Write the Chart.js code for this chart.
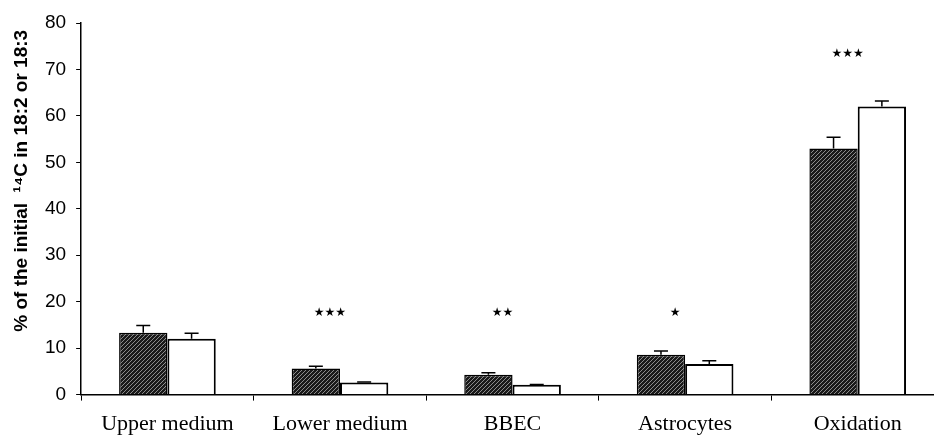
<!DOCTYPE html>
<html>
<head>
<meta charset="utf-8">
<script src="https://cdn.jsdelivr.net/npm/chart.js@4"></script>
<style>
  html, body { margin: 0; padding: 0; background: #fff; overflow: hidden; }
  #wrap { width: 944px; height: 447px; }
</style>
</head>
<body>
<div id="wrap"><canvas id="chart" width="944" height="447"></canvas></div>
<script>
const categories = ['Upper medium', 'Lower medium', 'BBEC', 'Astrocytes', 'Oxidation'];
const hatchedValues = [13.3, 5.6, 4.3, 8.6, 53.0];
const hatchedErrors = [1.6, 0.5, 0.4, 0.8, 2.4];
const whiteValues = [12.0, 2.6, 2.1, 6.6, 62.0];
const whiteErrors = [1.2, 0.1, 0.1, 0.7, 1.2];
const stars = ['', '***', '**', '*', '***'];
const starLevels = [null, 17.6, 17.5, 17.5, 73.4];
const yTicks = [0, 10, 20, 30, 40, 50, 60, 70, 80];
const yTitle = '% of the initial  \u00b9\u2074C in 18:2 or 18:3';

// diagonal hatch for the dark bars
function makeHatch() {
    const c = document.createElement('canvas');
    c.width = 4; c.height = 4;
    const g = c.getContext('2d');
    g.fillStyle = '#1a1a1a';
    g.fillRect(0, 0, 4, 4);
    g.strokeStyle = '#8c8c8c';
    g.lineWidth = 1;
    g.beginPath();
    g.moveTo(-1, 5); g.lineTo(5, -1);
    g.stroke();
    return g.createPattern(c, 'repeat');
}

const errorBars = {
    id: 'errorBars',
    afterDatasetsDraw(chart) {
        const ctx = chart.ctx;
        const y = chart.scales.y;
        const errs = [hatchedErrors, whiteErrors];
        ctx.save();
        ctx.strokeStyle = '#000';
        ctx.lineWidth = 1.5;
        chart.data.datasets.forEach((ds, di) => {
            chart.getDatasetMeta(di).data.forEach((bar, i) => {
                const top = y.getPixelForValue(ds.data[i] + errs[di][i]);
                ctx.beginPath();
                ctx.moveTo(bar.x, bar.y);
                ctx.lineTo(bar.x, top);
                ctx.moveTo(bar.x - 7, top);
                ctx.lineTo(bar.x + 7, top);
                ctx.stroke();
            });
        });
        ctx.restore();
    }
};

const starMarks = {
    id: 'starMarks',
    afterDatasetsDraw(chart) {
        const ctx = chart.ctx;
        const x = chart.scales.x, y = chart.scales.y;
        ctx.save();
        ctx.fillStyle = '#000';
        ctx.font = '12px "DejaVu Sans"';
        ctx.textAlign = 'center';
        ctx.textBaseline = 'middle';
        stars.forEach((s, i) => {
            if (!s) return;
            const txt = s.replace(/\*/g, '\u2605');
            ctx.fillText(txt, x.getPixelForValue(i) - 10, y.getPixelForValue(starLevels[i]));
        });
        ctx.restore();
    }
};

// y title sits a bit above the plot centre in the original
const sideTitle = {
    id: 'sideTitle',
    afterDraw(chart) {
        const ctx = chart.ctx;
        const area = chart.chartArea;
        ctx.save();
        ctx.translate(22, (area.top + area.bottom) / 2 - 28);
        ctx.rotate(-Math.PI / 2);
        ctx.fillStyle = '#000';
        ctx.font = 'bold 19px "Liberation Sans"';
        ctx.textAlign = 'center';
        ctx.textBaseline = 'middle';
        ctx.fillText(yTitle, 0, 0);
        ctx.restore();
    }
};

new Chart(document.getElementById('chart'), {
    type: 'bar',
    data: {
        labels: categories,
        datasets: [{
            data: hatchedValues,
            backgroundColor: makeHatch(),
            borderColor: '#000',
            borderWidth: 1.5,
            categoryPercentage: 0.56,
            barPercentage: 1.0
        }, {
            data: whiteValues,
            backgroundColor: '#fff',
            borderColor: '#000',
            borderWidth: 2,
            categoryPercentage: 0.56,
            barPercentage: 1.0
        }]
    },
    options: {
        responsive: false,
        animation: false,
        layout: { padding: { top: 23, right: 0, bottom: 0, left: 35 } },
        plugins: { legend: { display: false }, tooltip: { enabled: false } },
        scales: {
            x: {
                grid: { display: true, offset: true, drawOnChartArea: false, tickLength: 6, color: '#000' },
                border: { color: '#000', width: 1.5 },
                ticks: { color: '#000', font: { family: '"Liberation Serif"', size: 22 }, padding: 10, maxRotation: 0 }
            },
            y: {
                min: 0, max: 80,
                afterBuildTicks: axis => { axis.ticks = yTicks.map(v => ({ value: v })); },
                grid: { display: true, drawOnChartArea: false, tickLength: 5, color: '#000' },
                border: { color: '#000', width: 1.5 },
                ticks: { color: '#000', font: { family: '"Liberation Sans"', size: 19 }, padding: 10 }
            }
        }
    },
    plugins: [errorBars, starMarks, sideTitle]
});
</script>
</body>
</html>
